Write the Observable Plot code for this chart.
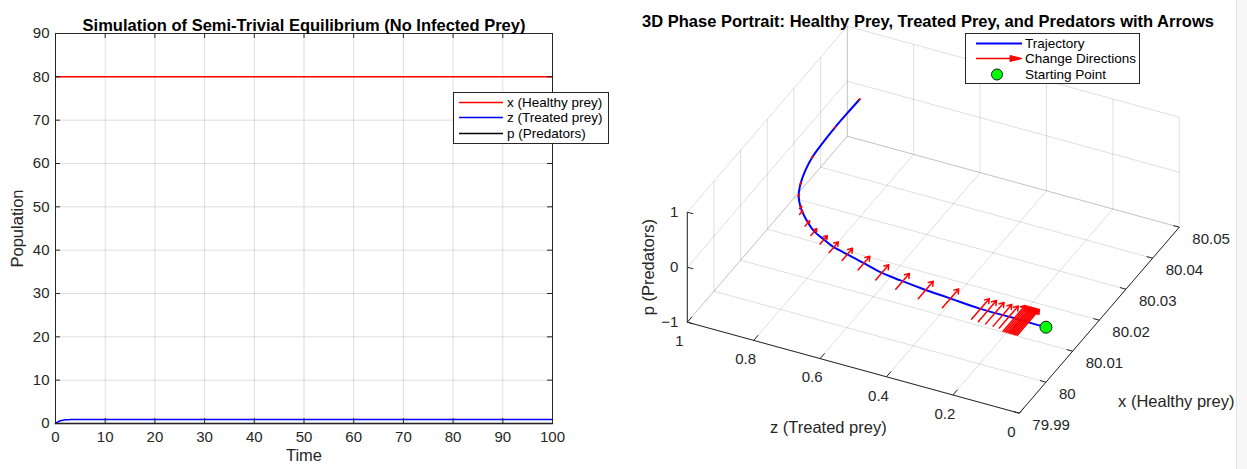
<!DOCTYPE html>
<html>
<head>
<meta charset="utf-8">
<script src="https://cdn.jsdelivr.net/npm/d3@7"></script>
<script src="https://cdn.jsdelivr.net/npm/@observablehq/plot@0.6"></script>
<style>
  body { margin: 0; background: #fff; font-family: "Liberation Sans", Arial, sans-serif; }
  #wrap { position: relative; width: 1247px; height: 469px; overflow: hidden; background: #fff; }
  #left, #right { position: absolute; top: 0; }
  #left { left: 0; }
  #right { left: 620px; }
  #edge { position: absolute; left: 1236px; top: 0; width: 11px; height: 469px; background: #f7f7f7; border-left: 1px solid #e4e4e4; }
  .legend { position: absolute; background: #fff; border: 1px solid #262626; color: #000; font-size: 13.5px; box-sizing: border-box; }
  .legend .row { position: absolute; left: 0; height: 15px; line-height: 15px; white-space: nowrap; }
  .legend svg { position: absolute; left: 0; top: 0; overflow: visible; }
  .legend .lab { position: absolute; top: 0; }
</style>
</head>
<body>
<div id="wrap">
  <div id="left"></div>
  <div id="right"></div>
  <div id="edge"></div>
</div>
<script>
// ---------- Time series: semi-trivial equilibrium, no infected prey ----------
const time      = [0, 0.25, 0.5, 0.75, 1, 1.5, 2, 3, 4, 6, 10, 20, 40, 60, 80, 100];
const healthy   = [80, 80, 80.0007, 80.0025, 80.0045, 80.0086, 80.0137, 80.02, 80.024, 80.028, 80.033, 80.037, 80.041, 80.044, 80.045, 80.046];
const treated   = [0, 0.2, 0.38, 0.52, 0.63, 0.77, 0.85, 0.9, 0.92, 0.93, 0.93, 0.93, 0.93, 0.93, 0.93, 0.93];
const predators = [0, 0, 0, 0, 0, 0, 0, 0, 0, 0, 0, 0, 0, 0, 0, 0];
const timeTicks = [0, 10, 20, 30, 40, 50, 60, 70, 80, 90, 100];
const popTicks  = [0, 10, 20, 30, 40, 50, 60, 70, 80, 90];
const seriesNames  = ["x (Healthy prey)", "z (Treated prey)", "p (Predators)"];
const seriesColors = ["#ff0000", "#0000ff", "#000000"];

// ---------- Phase portrait trajectory (x, z, p) ----------
const trajHealthy = [80.0000, 80.0000, 80.0001, 80.0001, 80.0007, 80.0012, 80.0018, 80.0025, 80.0037, 80.0048, 80.0057, 80.0070,
                     80.0086, 80.0112, 80.0137, 80.0167, 80.0199, 80.0237, 80.0277, 80.0327, 80.0370, 80.0415, 80.0461];
const trajTreated = [0, 0.034, 0.107, 0.198, 0.2985, 0.382, 0.4525, 0.519, 0.578, 0.637, 0.685, 0.725,
                     0.769, 0.814, 0.849, 0.879, 0.899, 0.915, 0.926, 0.931, 0.933, 0.933, 0.932];
const trajPred    = [0, 0, 0, 0, 0, 0, 0, 0, 0, 0, 0, 0, 0, 0, 0, 0, 0, 0, 0, 0, 0, 0, 0];

// Direction arrows along the trajectory: position and length (in healthy-prey units)
const arrowHealthy = [80.0461, 80.0370, 80.0277, 80.0199, 80.0167, 80.0137,
                      80.0124, 80.0100, 80.0082, 80.0069, 80.0057, 80.0048, 80.0037, 80.0026, 80.0017, 80.0011, 80.0007,
                      80.0001, 80.0000, 80.0000, 80.0000, 80.0000,
                      80.0000, 80.0000, 80.0000, 80.0000, 80.0000, 80.0000, 80.0000, 80.0000, 80.0000, 80.0000, 80.0000];
const arrowTreated = [0.932, 0.933, 0.926, 0.899, 0.879, 0.849,
                      0.837, 0.799, 0.765, 0.725, 0.685, 0.637, 0.578, 0.514, 0.4455, 0.371, 0.293,
                      0.198, 0.1765, 0.154, 0.131, 0.112,
                      0.096, 0.091, 0.086, 0.081, 0.077, 0.073, 0.069, 0.065, 0.061, 0.057, 0.053];
const arrowLength  = [0.0004, 0.0004, 0.0005, 0.0005, 0.0006, 0.0008,
                      0.0012, 0.0017, 0.0022, 0.0027, 0.0034, 0.0039, 0.0044, 0.0049, 0.0051, 0.0056, 0.0061,
                      0.0066, 0.0068, 0.0069, 0.0070, 0.0071,
                      0.0083, 0.0083, 0.0083, 0.0083, 0.0083, 0.0083, 0.0083, 0.0083, 0.0083, 0.0083, 0.0083];

const startPoint = {healthy: 80, treated: 0, pred: 0};

// Axis ranges and ticks of the 3D box
const healthyTicks = [79.99, 80, 80.01, 80.02, 80.03, 80.04, 80.05];
const treatedTicks = [0, 0.2, 0.4, 0.6, 0.8, 1];
const predTicks    = [-1, 0, 1];

const FONT = "'Liberation Sans', Arial, sans-serif";
const AXIS = "#262626";
const TICK_FS = 15, LABEL_FS = 16.5, TITLE_FS = 16.5;

// ================= Left panel =================
{
  const rows = [];
  time.forEach((t, i) => {
    rows.push({t, v: healthy[i], s: seriesNames[0]});
    rows.push({t, v: treated[i], s: seriesNames[1]});
    rows.push({t, v: predators[i], s: seriesNames[2]});
  });
  const tickLenX = 1.0;   // in time units (~5px)
  const tickLenY = 1.15;  // in population units (~5px)
  const chart = Plot.plot({
    width: 620, height: 469,
    marginLeft: 55, marginRight: 68, marginTop: 33, marginBottom: 46,
    style: {fontFamily: FONT, fontSize: TICK_FS + "px", color: AXIS, background: "transparent", overflow: "visible"},
    x: {domain: [0, 100]},
    y: {domain: [0, 90]},
    color: {domain: seriesNames, range: seriesColors},
    marks: [
      Plot.ruleX(timeTicks, {x: d => d, stroke: AXIS, strokeOpacity: 0.15}),
      Plot.ruleY(popTicks, {y: d => d, stroke: AXIS, strokeOpacity: 0.15}),
      Plot.line(rows, {x: "t", y: "v", z: "s", stroke: "s", strokeWidth: 1.5, curve: "monotone-x"}),
      Plot.frame({stroke: AXIS, strokeWidth: 1}),
      // inward tick marks on all four sides
      Plot.ruleX(timeTicks, {x: d => d, y1: 0, y2: tickLenY, stroke: AXIS}),
      Plot.ruleX(timeTicks, {x: d => d, y1: 90, y2: 90 - tickLenY, stroke: AXIS}),
      Plot.ruleY(popTicks, {y: d => d, x1: 0, x2: tickLenX, stroke: AXIS}),
      Plot.ruleY(popTicks, {y: d => d, x1: 100, x2: 100 - tickLenX, stroke: AXIS}),
      Plot.axisX({ticks: timeTicks, tickSize: 0, tickPadding: 8, fontSize: TICK_FS, label: null}),
      Plot.axisY({ticks: popTicks, tickSize: 0, tickPadding: 6, fontSize: TICK_FS, label: null}),
      Plot.text(["Time"], {frameAnchor: "bottom", dy: 37, fontSize: LABEL_FS, fill: AXIS}),
      Plot.text(["Population"], {frameAnchor: "left", dx: -38, rotate: -90, textAnchor: "middle", fontSize: LABEL_FS, fill: AXIS}),
      Plot.text(["Simulation of Semi-Trivial Equilibrium (No Infected Prey)"],
                {frameAnchor: "top", dy: -14, fontSize: TITLE_FS, fontWeight: "bold", fill: "#000"})
    ]
  });
  document.getElementById("left").appendChild(chart);

  // legend
  const lg = document.createElement("div");
  lg.className = "legend";
  Object.assign(lg.style, {left: "453px", top: "92px", width: "156px", height: "52px"});
  seriesNames.forEach((name, i) => {
    const row = document.createElement("div");
    row.className = "row";
    row.style.top = (1.5 + i * 15.5) + "px";
    row.style.width = "156px";
    row.innerHTML = `<svg width="50" height="15"><line x1="5" x2="49" y1="7.5" y2="7.5" stroke="${seriesColors[i]}" stroke-width="1.5"/></svg>` +
                    `<span class="lab" style="left:53px">${name}</span>`;
    lg.appendChild(row);
  });
  document.getElementById("wrap").appendChild(lg);
}

// ================= Right panel: 3D phase portrait =================
{
  const W = 627, H = 469;
  // Orthographic view of the box: screen position of the corner (x min, z min, p min)
  // and screen vectors spanning each full axis range.
  const xr = [79.99, 80.05], zr = [0, 1], pr = [-1, 1];
  const corner = [398.8, 412.7];
  const vX = [160, -186], vZ = [-332, -91], vP = [0, -110];
  const proj = (x, z, p) => {
    const a = (x - xr[0]) / (xr[1] - xr[0]);
    const b = (z - zr[0]) / (zr[1] - zr[0]);
    const c = (p - pr[0]) / (pr[1] - pr[0]);
    return [corner[0] + a * vX[0] + b * vZ[0] + c * vP[0],
            corner[1] + a * vX[1] + b * vZ[1] + c * vP[1]];
  };
  const seg = (A, B, extra = {}) => {
    const [x1, y1] = proj(...A), [x2, y2] = proj(...B);
    return {x1, y1, x2, y2, ...extra};
  };

  // grid lines on the floor and two back walls
  const grid = [];
  for (const z of treatedTicks) grid.push(seg([xr[0], z, pr[0]], [xr[1], z, pr[0]]));
  for (const x of healthyTicks) grid.push(seg([x, zr[0], pr[0]], [x, zr[1], pr[0]]));
  for (const x of healthyTicks) grid.push(seg([x, zr[1], pr[0]], [x, zr[1], pr[1]]));
  for (const p of predTicks) grid.push(seg([xr[0], zr[1], p], [xr[1], zr[1], p]));
  for (const z of treatedTicks) grid.push(seg([xr[1], z, pr[0]], [xr[1], z, pr[1]]));
  for (const p of predTicks) grid.push(seg([xr[1], zr[0], p], [xr[1], zr[1], p]));

  // axis lines
  const axes = [
    seg([xr[0], zr[1], pr[0]], [xr[0], zr[0], pr[0]]),
    seg([xr[0], zr[0], pr[0]], [xr[1], zr[0], pr[0]]),
    seg([xr[0], zr[1], pr[0]], [xr[0], zr[1], pr[1]])
  ];
  // tick marks
  const ticks = [];
  for (const z of treatedTicks) ticks.push(seg([xr[0], z, pr[0]], [xr[0] + 0.0017, z, pr[0]]));
  for (const x of healthyTicks) ticks.push(seg([x, zr[0], pr[0]], [x, zr[0] + 0.018, pr[0]]));
  for (const p of predTicks) ticks.push(seg([xr[0], zr[1], p], [xr[0], zr[1] - 0.018, p]));

  // tick labels
  const fmt = d3.format("~g");
  const zLabels = treatedTicks.map(z => { const [x, y] = proj(xr[0], z, pr[0]); return {x, y, t: fmt(z)}; });
  const xLabels = healthyTicks.map(v => { const [x, y] = proj(v, zr[0], pr[0]); return {x, y, t: fmt(v)}; });
  const pLabels = predTicks.map(p => { const [x, y] = proj(xr[0], zr[1], p); return {x, y, t: fmt(p)}; });

  // trajectory
  const traj = trajHealthy.map((h, i) => { const [x, y] = proj(h, trajTreated[i], trajPred[i]); return {x, y}; });
  // arrows, centred on the trajectory, pointing along increasing healthy prey
  const arrows = arrowHealthy.map((h, i) => {
    const L = arrowLength[i];
    return seg([h - L / 2, arrowTreated[i], 0], [h + L / 2, arrowTreated[i], 0]);
  });
  const [sx, sy] = proj(startPoint.healthy, startPoint.treated, startPoint.pred);

  const zMid = proj(xr[0], 0.5, pr[0]);
  const xMid = proj((xr[0] + xr[1]) / 2, zr[0], pr[0]);
  const pMid = proj(xr[0], zr[1], 0);

  const chart = Plot.plot({
    width: W, height: H,
    margin: 0,
    style: {fontFamily: FONT, fontSize: TICK_FS + "px", color: AXIS, background: "transparent", overflow: "visible"},
    x: {domain: [0, W], range: [0, W], axis: null},
    y: {domain: [0, H], range: [0, H], axis: null},
    marks: [
      Plot.link(grid, {x1: "x1", y1: "y1", x2: "x2", y2: "y2", stroke: AXIS, strokeOpacity: 0.15, strokeWidth: 1}),
      Plot.link(axes, {x1: "x1", y1: "y1", x2: "x2", y2: "y2", stroke: AXIS, strokeWidth: 1}),
      Plot.link(ticks, {x1: "x1", y1: "y1", x2: "x2", y2: "y2", stroke: AXIS, strokeWidth: 1}),
      Plot.text(zLabels, {x: "x", y: "y", text: "t", dx: -8, dy: 19, fontSize: TICK_FS, fill: AXIS}),
      Plot.text(xLabels, {x: "x", y: "y", text: "t", dx: 13, dy: 12, textAnchor: "start", fontSize: TICK_FS, fill: AXIS}),
      Plot.text(pLabels, {x: "x", y: "y", text: "t", dx: -9, textAnchor: "end", fontSize: TICK_FS, fill: AXIS}),
      Plot.text(["z (Treated prey)"], {x: () => zMid[0], y: () => zMid[1], dx: -25, dy: 60, fontSize: LABEL_FS, fill: AXIS}),
      Plot.text(["x (Healthy prey)"], {x: () => xMid[0], y: () => xMid[1], dx: 77, dy: 82, fontSize: LABEL_FS, fill: AXIS}),
      Plot.text(["p (Predators)"], {x: () => pMid[0], y: () => pMid[1], dx: -39, rotate: -90, fontSize: LABEL_FS, fill: AXIS}),
      Plot.line(traj, {x: "x", y: "y", stroke: "#0000ff", strokeWidth: 2, curve: "catmull-rom"}),
      Plot.arrow(arrows, {x1: "x1", y1: "y1", x2: "x2", y2: "y2", stroke: "#ff0000", strokeWidth: 1.5, headLength: 5, headAngle: 70}),
      Plot.dot([startPoint], {x: () => sx, y: () => sy, r: 6, fill: "#00ff00", stroke: "#1a1a1a", strokeWidth: 1}),
      Plot.text(["3D Phase Portrait: Healthy Prey, Treated Prey, and Predators with Arrows"],
                {frameAnchor: "top", dx: -6, dy: 15, fontSize: TITLE_FS, fontWeight: "bold", fill: "#000"})
    ]
  });
  document.getElementById("right").appendChild(chart);

  // legend
  const lg = document.createElement("div");
  lg.className = "legend";
  Object.assign(lg.style, {left: "965px", top: "33px", width: "175px", height: "51px"});
  const entries = [
    {name: "Trajectory", svg: `<line x1="10" x2="56" y1="7.5" y2="7.5" stroke="#0000ff" stroke-width="2"/>`},
    {name: "Change Directions", svg: `<line x1="10" x2="46" y1="7.5" y2="7.5" stroke="#ff0000" stroke-width="1.5"/><path d="M44,4.5 L56,7.5 L44,10.5 Z" fill="#ff0000" stroke="#ff0000"/>`},
    {name: "Starting Point", svg: `<circle cx="31" cy="7.5" r="5.5" fill="#00ff00" stroke="#1a1a1a"/>`}
  ];
  entries.forEach((e, i) => {
    const row = document.createElement("div");
    row.className = "row";
    row.style.top = (1.5 + i * 15.5) + "px";
    row.style.width = "175px";
    row.innerHTML = `<svg width="58" height="15">${e.svg}</svg><span class="lab" style="left:59px">${e.name}</span>`;
    lg.appendChild(row);
  });
  document.getElementById("wrap").appendChild(lg);
}
</script>
</body>
</html>
